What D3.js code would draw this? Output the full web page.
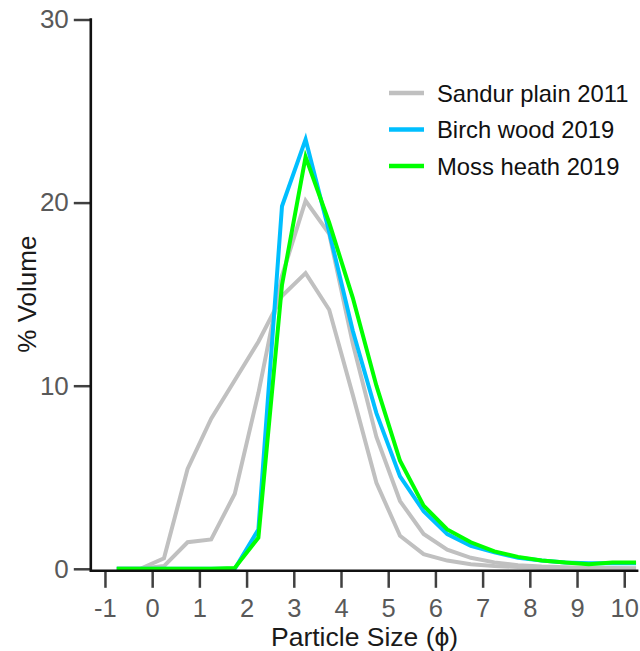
<!DOCTYPE html>
<html>
<head>
<meta charset="utf-8">
<script src="https://cdn.jsdelivr.net/npm/d3@7"></script>
<style>
  body { margin: 0; background: #fff; }
  svg { display: block; font-family: "Liberation Sans", Arial, sans-serif; }
</style>
</head>
<body>
<div id="chart"></div>
<script>
// particle size classes (phi), mid points of the half-phi bins
let phi = [-0.75, -0.25, 0.25, 0.75, 1.25, 1.75, 2.25, 2.75, 3.25, 3.75, 4.25, 4.75,
  5.25, 5.75, 6.25, 6.75, 7.25, 7.75, 8.25, 8.75, 9.25, 9.75, 10.25];

// % volume, two sandur plain samples from 2011 (both drawn grey)
let sandurA = [0, 0, 0.57, 5.45, 8.2, 10.3, 12.4, 14.9, 16.15, 14.15, 9.5, 4.7,
  1.8, 0.8, 0.45, 0.25, 0.15, 0.1, 0.05, 0.03, 0.02, 0.01, 0];
let sandurB = [0, 0, 0.15, 1.45, 1.6, 4.1, 9.6, 16.0, 20.1, 18.3, 12.3, 7.2,
  3.7, 1.9, 1.05, 0.6, 0.35, 0.2, 0.12, 0.08, 0.05, 0.04, 0.03];
let birch = [0, 0, 0, 0, 0, 0, 2.15, 19.8, 23.45, 18.4, 13.0, 8.5,
  5.05, 3.15, 1.9, 1.25, 0.9, 0.6, 0.45, 0.35, 0.3, 0.3, 0.3];
let moss = [0, 0, 0, 0, 0, 0.05, 1.7, 15.5, 22.5, 18.9, 14.8, 10.0,
  5.9, 3.45, 2.15, 1.45, 0.95, 0.65, 0.45, 0.35, 0.25, 0.35, 0.35];

let xTicks = [-1, 0, 1, 2, 3, 4, 5, 6, 7, 8, 9, 10];
let yTicks = [0, 10, 20, 30];

let legendNames = ["Sandur plain 2011", "Birch wood 2019", "Moss heath 2019"];
let legendColours = ["#c0c0c0", "#00bfff", "#00ff00"];

let w = 640, h = 651;
let svg = d3.select("#chart").append("svg")
  .attr("width", w)
  .attr("height", h);

let x = d3.scaleLinear().domain([-1.3, 10.3]).range([90.8, 638.4]);
let y = d3.scaleLinear().domain([0, 30]).range([568.8, 19.5]);
let axisY = 570.8;

//series lines, grey first so the green ends up on top
let series = [
  {vals: sandurA, col: legendColours[0]},
  {vals: sandurB, col: legendColours[0]},
  {vals: birch, col: legendColours[1]},
  {vals: moss, col: legendColours[2]}
];
let line = d3.line()
  .x(function(d){ return x(d[0]); })
  .y(function(d){ return y(d[1]); });

svg.selectAll("path.series")
  .data(series)
  .enter().append("path")
  .attr("class", "series")
  .attr("d", function(s){ return line(phi.map(function(p, i){ return [p, s.vals[i]]; })); })
  .attr("fill", "none")
  .attr("stroke", function(s){ return s.col; })
  .attr("stroke-width", 4)
  .attr("stroke-linejoin", "miter");

//y axis
let yAxis = svg.append("g")
  .attr("transform", "translate(" + x(-1.3) + ",0)")
  .call(d3.axisLeft(y).tickValues(yTicks).tickSize(17).tickSizeOuter(0).tickPadding(5));
yAxis.select(".domain").remove();
yAxis.selectAll(".tick line").attr("stroke", "#404040").attr("stroke-width", 2.5);
yAxis.selectAll(".tick text")
  .attr("fill", "#595959")
  .attr("font-size", "26px")
  .attr("font-family", "Liberation Sans, Arial, sans-serif");

//x axis
let xAxis = svg.append("g")
  .attr("transform", "translate(0," + axisY + ")")
  .call(d3.axisBottom(x).tickValues(xTicks).tickSize(17).tickSizeOuter(0).tickFormat(d3.format("d")));
xAxis.select(".domain").remove();
xAxis.selectAll(".tick line").attr("stroke", "#404040").attr("stroke-width", 2.5);
xAxis.selectAll(".tick text")
  .attr("y", 27.8)
  .attr("fill", "#595959")
  .attr("font-size", "25.5px")
  .attr("font-family", "Liberation Sans, Arial, sans-serif")
  .text(function(d){ return d < 0 ? "-" + Math.abs(d) : d; });

//axis lines
svg.append("line")
  .attr("x1", x(-1.3)).attr("x2", x(-1.3))
  .attr("y1", y(30) - 1.2).attr("y2", axisY + 1.2)
  .attr("stroke", "#111").attr("stroke-width", 2.6);
svg.append("line")
  .attr("x1", x(-1.3)).attr("x2", x(10.3))
  .attr("y1", axisY).attr("y2", axisY)
  .attr("stroke", "#111").attr("stroke-width", 2.6);

//axis titles
svg.append("text")
  .attr("x", (x(-1.3) + x(10.3)) / 2)
  .attr("y", 646)
  .attr("text-anchor", "middle")
  .attr("font-size", "26.5px")
  .attr("fill", "#1a1a1a")
  .text("Particle Size (\u03d5)");

svg.append("text")
  .attr("transform", "translate(36," + (y(0) + y(30)) / 2 + ") rotate(-90)")
  .attr("text-anchor", "middle")
  .attr("font-size", "26px")
  .attr("fill", "#1a1a1a")
  .text("% Volume");

//legend
let legend = svg.selectAll("g.legend")
  .data(legendNames)
  .enter().append("g")
  .attr("class", "legend")
  .attr("transform", function(d, i){ return "translate(389," + (93 + i * 36.5) + ")"; });
legend.append("line")
  .attr("x1", 0).attr("x2", 35)
  .attr("stroke", function(d, i){ return legendColours[i]; })
  .attr("stroke-width", 4.5);
legend.append("text")
  .attr("x", 48)
  .attr("y", 8.5)
  .attr("font-size", "23.8px")
  .attr("fill", "#111")
  .text(function(d){ return d; });
</script>
</body>
</html>
